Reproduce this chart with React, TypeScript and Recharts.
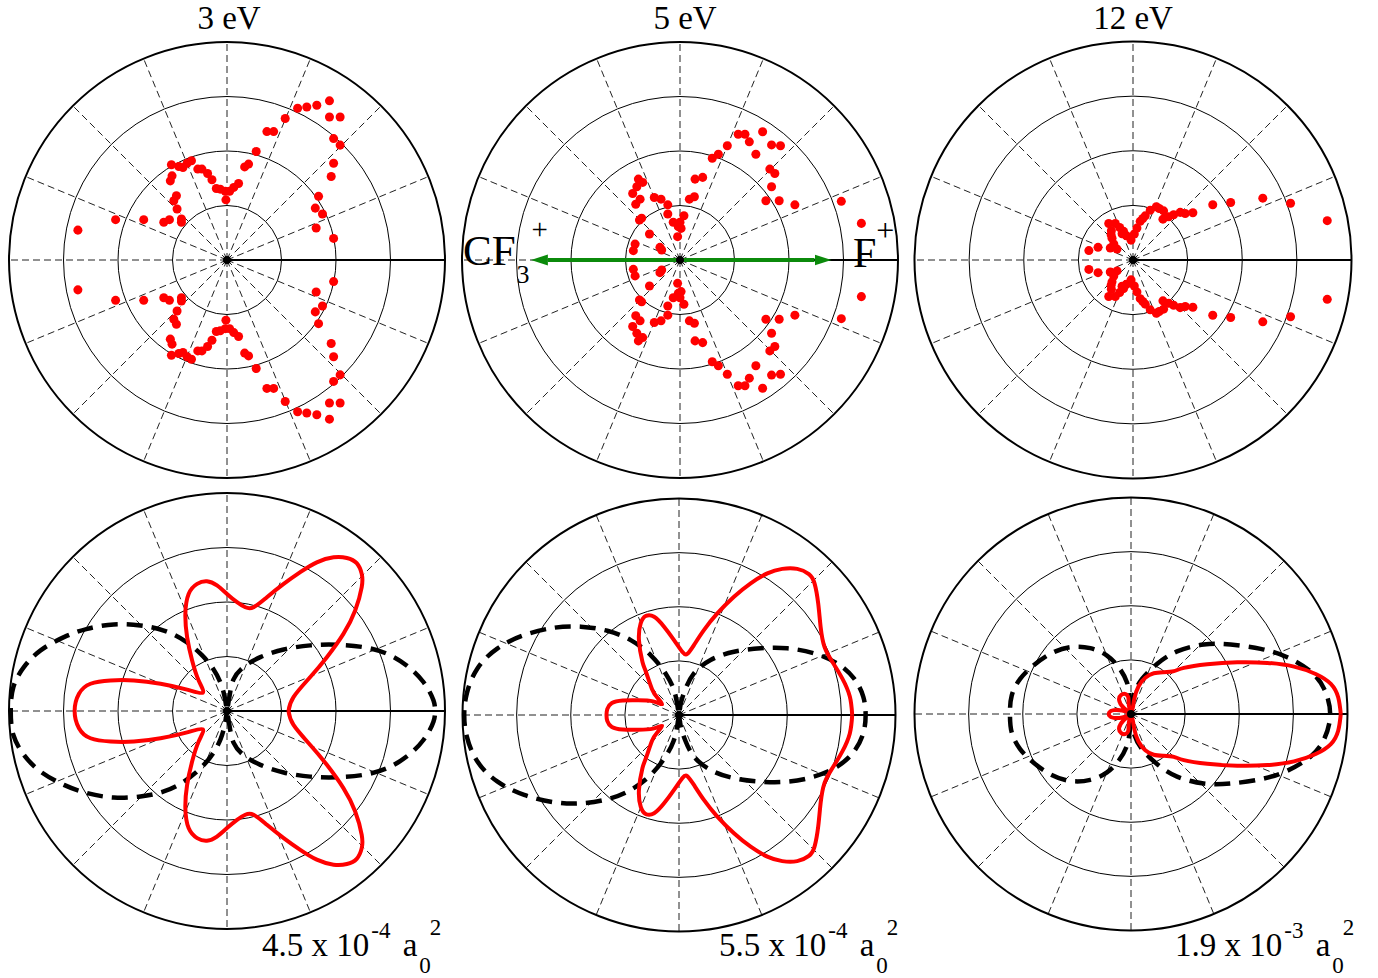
import React from 'react';
import {
  RadarChart,
  PolarGrid,
  ComposedChart,
  XAxis,
  YAxis,
  ZAxis,
  Line,
  Scatter,
  ReferenceLine,
  ReferenceDot,
} from 'recharts';

const FONT = '"Liberation Serif", "Times New Roman", serif';
const RED = '#ff0000';
const GREEN = '#0b8a0b';

// grid: dashed spokes every 22.5 deg, solid spoke along the F+ direction (0 deg)
const SPOKE_ANGLES = [22.5, 45, 67.5, 90, 112.5, 135, 157.5, 180, 202.5, 225, 247.5, 270, 292.5, 315, 337.5];
const RING_FRACTIONS = [0.25, 0.5, 0.75];

const ENERGY_LABELS = ['3 eV', '5 eV', '12 eV'];
const SCALE_MANTISSA = ['4.5', '5.5', '1.9'];
const SCALE_EXPONENT = ['-4', '-4', '-3'];

// measured points (x = I cos(theta), y = I sin(theta), normalised to outer ring)
const dots3eV: [number, number][] = [
  [0.47, 0.73], [0.412, 0.71], [0.366, 0.702], [0.324, 0.696], [0.47, 0.656], [0.519, 0.656],
  [0.267, 0.649], [0.183, 0.589], [0.214, 0.589], [0.489, 0.557], [0.519, 0.527], [0.134, 0.498],
  [0.489, 0.444], [0.478, 0.383], [0.081, 0.427], [0.099, 0.44], [0.053, 0.351], [0.031, 0.333],
  [0.012, 0.315], [-0.008, 0.315], [-0.031, 0.325], [-0.049, 0.328], [-0.005, 0.276], [-0.069, 0.368],
  [-0.089, 0.397], [-0.115, 0.417], [-0.134, 0.417], [-0.163, 0.455], [-0.183, 0.444], [-0.202, 0.424],
  [-0.221, 0.429], [-0.255, 0.437], [-0.252, 0.386], [-0.26, 0.363], [-0.232, 0.295], [-0.244, 0.272],
  [-0.229, 0.234], [-0.209, 0.188], [-0.209, 0.173], [-0.264, 0.185], [-0.29, 0.173], [-0.382, 0.185],
  [-0.511, 0.185], [-0.684, 0.137], [0.42, 0.292], [0.405, 0.238], [0.438, 0.211], [0.409, 0.147],
  [0.489, 0.099],
  [0.47, -0.73], [0.412, -0.71], [0.366, -0.702], [0.324, -0.696], [0.47, -0.656], [0.519, -0.656],
  [0.267, -0.649], [0.183, -0.589], [0.214, -0.589], [0.489, -0.557], [0.519, -0.527], [0.134, -0.498],
  [0.489, -0.444], [0.478, -0.383], [0.081, -0.427], [0.099, -0.44], [0.053, -0.351], [0.031, -0.333],
  [0.012, -0.315], [-0.008, -0.315], [-0.031, -0.325], [-0.049, -0.328], [-0.005, -0.276], [-0.069, -0.368],
  [-0.089, -0.397], [-0.115, -0.417], [-0.134, -0.417], [-0.163, -0.455], [-0.183, -0.444], [-0.202, -0.424],
  [-0.221, -0.429], [-0.255, -0.437], [-0.252, -0.386], [-0.26, -0.363], [-0.232, -0.295], [-0.244, -0.272],
  [-0.229, -0.234], [-0.209, -0.188], [-0.209, -0.173], [-0.264, -0.185], [-0.29, -0.173], [-0.382, -0.185],
  [-0.511, -0.185], [-0.684, -0.137], [0.42, -0.292], [0.405, -0.238], [0.438, -0.211], [0.409, -0.147],
  [0.489, -0.099],
];

const dots5eV: [number, number][] = [
  [0.267, 0.577], [0.298, 0.577], [0.318, 0.542], [0.379, 0.588], [0.42, 0.528], [0.461, 0.524],
  [0.348, 0.485], [0.217, 0.524], [0.176, 0.485], [0.148, 0.467], [0.412, 0.417], [0.435, 0.397],
  [0.42, 0.336], [0.394, 0.272], [0.455, 0.272], [0.527, 0.253], [0.069, 0.371], [0.104, 0.379],
  [0.043, 0.279], [0.066, 0.29], [0.74, 0.269], [0.832, 0.168], [-0.191, 0.371], [-0.171, 0.356],
  [-0.198, 0.336], [-0.217, 0.305], [-0.183, 0.279], [-0.203, 0.256], [-0.118, 0.287], [-0.087, 0.279],
  [-0.056, 0.253], [-0.056, 0.211], [-0.176, 0.192], [-0.186, 0.183], [-0.031, 0.173], [0, 0.173],
  [0.018, 0.203], [-0.008, 0.153], [0.005, 0.145], [-0.011, 0.107], [-0.14, 0.119], [-0.206, 0.073],
  [-0.214, 0.043], [-0.092, 0.058], [-0.084, 0.046],
  [0.267, -0.577], [0.298, -0.577], [0.318, -0.542], [0.379, -0.588], [0.42, -0.528], [0.461, -0.524],
  [0.348, -0.485], [0.217, -0.524], [0.176, -0.485], [0.148, -0.467], [0.412, -0.417], [0.435, -0.397],
  [0.42, -0.336], [0.394, -0.272], [0.455, -0.272], [0.527, -0.253], [0.069, -0.371], [0.104, -0.379],
  [0.043, -0.279], [0.066, -0.29], [0.74, -0.269], [0.832, -0.168], [-0.191, -0.371], [-0.171, -0.356],
  [-0.198, -0.336], [-0.217, -0.305], [-0.183, -0.279], [-0.203, -0.256], [-0.118, -0.287], [-0.087, -0.279],
  [-0.056, -0.253], [-0.056, -0.211], [-0.176, -0.192], [-0.186, -0.183], [-0.031, -0.173], [0, -0.173],
  [0.018, -0.203], [-0.008, -0.153], [0.005, -0.145], [-0.011, -0.107], [-0.14, -0.119], [-0.206, -0.073],
  [-0.214, -0.043], [-0.092, -0.058], [-0.084, -0.046],
];

const dots12eV: [number, number][] = [
  [0.889, 0.18], [0.721, 0.26], [0.594, 0.283], [0.447, 0.263], [0.365, 0.253], [0.274, 0.216],
  [0.239, 0.213], [0.216, 0.218], [0.186, 0.207], [0.163, 0.198], [0.137, 0.187], [0.14, 0.225],
  [0.107, 0.244], [0.079, 0.228], [0.056, 0.202], [0.033, 0.177], [0.018, 0.146], [0.006, 0.119],
  [-0.009, 0.091], [-0.111, 0.167], [-0.081, 0.167], [-0.061, 0.149], [-0.043, 0.131], [-0.03, 0.111],
  [-0.099, 0.134], [-0.096, 0.1], [-0.088, 0.073], [-0.104, 0.055], [-0.073, 0.05], [-0.16, 0.058],
  [-0.202, 0.043], [0.12, 0.236], [0.045, 0.19], [-0.1, 0.115], [-0.05, 0.12],
  [0.889, -0.18], [0.721, -0.26], [0.594, -0.283], [0.447, -0.263], [0.365, -0.253], [0.274, -0.216],
  [0.239, -0.213], [0.216, -0.218], [0.186, -0.207], [0.163, -0.198], [0.137, -0.187], [0.14, -0.225],
  [0.107, -0.244], [0.079, -0.228], [0.056, -0.202], [0.033, -0.177], [0.018, -0.146], [0.006, -0.119],
  [-0.009, -0.091], [-0.111, -0.167], [-0.081, -0.167], [-0.061, -0.149], [-0.043, -0.131], [-0.03, -0.111],
  [-0.099, -0.134], [-0.096, -0.1], [-0.088, -0.073], [-0.104, -0.055], [-0.073, -0.05], [-0.16, -0.058],
  [-0.202, -0.043], [0.12, -0.236], [0.045, -0.19], [-0.1, -0.115], [-0.05, -0.12],
];

// calculated distributions (red solid)
const theory3eV: [number, number][] = [
  [0.282, 0], [0.305, 0.064], [0.382, 0.156], [0.458, 0.247], [0.534, 0.354], [0.588, 0.461],
  [0.618, 0.568], [0.618, 0.629], [0.595, 0.678], [0.55, 0.702], [0.489, 0.705], [0.412, 0.682],
  [0.336, 0.637], [0.26, 0.583], [0.183, 0.522], [0.122, 0.476], [0.084, 0.476], [0.046, 0.499],
  [0, 0.537], [-0.046, 0.576], [-0.092, 0.595], [-0.137, 0.583], [-0.176, 0.537], [-0.191, 0.446],
  [-0.183, 0.339], [-0.16, 0.232], [-0.13, 0.14], [-0.111, 0.084], [-0.183, 0.098], [-0.305, 0.125],
  [-0.427, 0.14], [-0.534, 0.14], [-0.626, 0.125], [-0.679, 0.079], [-0.699, 0],
  [-0.679, -0.079], [-0.626, -0.125], [-0.534, -0.14], [-0.427, -0.14], [-0.305, -0.125], [-0.183, -0.098],
  [-0.111, -0.084], [-0.13, -0.14], [-0.16, -0.232], [-0.183, -0.339], [-0.191, -0.446], [-0.176, -0.537],
  [-0.137, -0.583], [-0.092, -0.595], [-0.046, -0.576], [0, -0.537], [0.046, -0.499], [0.084, -0.476],
  [0.122, -0.476], [0.183, -0.522], [0.26, -0.583], [0.336, -0.637], [0.412, -0.682], [0.489, -0.705],
  [0.55, -0.702], [0.595, -0.678], [0.618, -0.629], [0.618, -0.568], [0.588, -0.461], [0.534, -0.354],
  [0.458, -0.247], [0.382, -0.156], [0.305, -0.064], [0.282, 0],
];

const theory5eV: [number, number][] = [
  [0.8, 0], [0.789, 0.085], [0.754, 0.169], [0.708, 0.246], [0.672, 0.315], [0.654, 0.408],
  [0.643, 0.515], [0.626, 0.608], [0.6, 0.651], [0.546, 0.675], [0.477, 0.675], [0.408, 0.654],
  [0.331, 0.608], [0.254, 0.546], [0.177, 0.469], [0.115, 0.392], [0.069, 0.323], [0.038, 0.282],
  [0.015, 0.292], [-0.023, 0.346], [-0.069, 0.408], [-0.115, 0.454], [-0.154, 0.457], [-0.177, 0.423],
  [-0.185, 0.346], [-0.169, 0.246], [-0.153, 0.2], [-0.125, 0.12], [-0.1, 0.08], [-0.078, 0.05],
  [-0.12, 0.063], [-0.192, 0.068], [-0.26, 0.067], [-0.31, 0.055], [-0.331, 0.028], [-0.335, 0],
  [-0.331, -0.028], [-0.31, -0.055], [-0.26, -0.067], [-0.192, -0.068], [-0.12, -0.063], [-0.078, -0.05],
  [-0.1, -0.08], [-0.125, -0.12], [-0.153, -0.2], [-0.169, -0.246], [-0.185, -0.346], [-0.177, -0.423],
  [-0.154, -0.457], [-0.115, -0.454], [-0.069, -0.408], [-0.023, -0.346], [0.015, -0.292], [0.038, -0.282],
  [0.069, -0.323], [0.115, -0.392], [0.177, -0.469], [0.254, -0.546], [0.331, -0.608], [0.408, -0.654],
  [0.477, -0.675], [0.546, -0.675], [0.6, -0.651], [0.626, -0.608], [0.643, -0.515], [0.654, -0.408],
  [0.672, -0.315], [0.708, -0.246], [0.754, -0.169], [0.789, -0.085], [0.8, 0],
];

const theory12eV: [number, number][] = [
  [0.969, 0], [0.957, 0.077], [0.923, 0.139], [0.853, 0.185], [0.753, 0.219], [0.63, 0.236],
  [0.491, 0.239], [0.352, 0.23], [0.244, 0.213], [0.198, 0.198], [0.151, 0.193], [0.105, 0.188],
  [0.066, 0.167], [0.035, 0.128], [0.015, 0.069], [0.004, 0.015],
  [-0.01, 0.04], [-0.012, 0.075], [-0.025, 0.092], [-0.045, 0.088], [-0.055, 0.065], [-0.035, 0.03],
  [-0.01, 0.008], [-0.04, 0.016], [-0.08, 0.018], [-0.1, 0.008], [-0.1, -0.008], [-0.08, -0.018],
  [-0.04, -0.016], [-0.01, -0.008], [-0.035, -0.03], [-0.055, -0.065], [-0.045, -0.088], [-0.025, -0.092],
  [-0.012, -0.075], [-0.01, -0.04], [0.004, -0.015],
  [0.015, -0.069], [0.035, -0.128], [0.066, -0.167], [0.105, -0.188], [0.151, -0.193], [0.198, -0.198],
  [0.244, -0.213], [0.352, -0.23], [0.491, -0.239], [0.63, -0.236], [0.753, -0.219], [0.853, -0.185],
  [0.923, -0.139], [0.957, -0.077], [0.969, 0],
];

// model distributions (black dashed), one closed loop per lobe
const model3eVLeft: [number, number][] = [
  [0, 0], [-0.012, 0.07], [-0.03, 0.13], [-0.065, 0.196], [-0.122, 0.263], [-0.198, 0.324], [-0.29, 0.369],
  [-0.397, 0.392], [-0.519, 0.397], [-0.641, 0.377], [-0.748, 0.339], [-0.855, 0.278], [-0.931, 0.202],
  [-0.98, 0.11], [-0.992, 0], [-0.98, -0.11], [-0.931, -0.202], [-0.855, -0.278], [-0.748, -0.339],
  [-0.641, -0.377], [-0.519, -0.397], [-0.397, -0.392], [-0.29, -0.369], [-0.198, -0.324], [-0.122, -0.263],
  [-0.065, -0.196], [-0.03, -0.13], [-0.012, -0.07], [0, 0],
];
const model3eVRight: [number, number][] = [
  [0, 0], [0.012, 0.07], [0.03, 0.145], [0.076, 0.202], [0.153, 0.247], [0.26, 0.282], [0.382, 0.301],
  [0.504, 0.304], [0.626, 0.293], [0.733, 0.263], [0.824, 0.209], [0.901, 0.133], [0.947, 0.049],
  [0.954, 0], [0.947, -0.049], [0.901, -0.133], [0.824, -0.209], [0.733, -0.263], [0.626, -0.293],
  [0.504, -0.304], [0.382, -0.301], [0.26, -0.282], [0.153, -0.247], [0.076, -0.202], [0.03, -0.145],
  [0.012, -0.07], [0, 0],
];
const model5eVLeft: [number, number][] = [
  [0, 0], [-0.01, 0.06], [-0.025, 0.12], [-0.062, 0.192], [-0.131, 0.277], [-0.223, 0.346], [-0.331, 0.389],
  [-0.454, 0.408], [-0.577, 0.403], [-0.715, 0.369], [-0.838, 0.308], [-0.931, 0.215], [-0.98, 0.1],
  [-0.992, 0], [-0.98, -0.1], [-0.931, -0.215], [-0.838, -0.308], [-0.715, -0.369], [-0.577, -0.403],
  [-0.454, -0.408], [-0.331, -0.389], [-0.223, -0.346], [-0.131, -0.277], [-0.062, -0.192], [-0.025, -0.12],
  [-0.01, -0.06], [0, 0],
];
const model5eVRight: [number, number][] = [
  [0, 0], [0.01, 0.06], [0.03, 0.12], [0.069, 0.192], [0.146, 0.254], [0.254, 0.292], [0.377, 0.308],
  [0.5, 0.308], [0.623, 0.285], [0.731, 0.238], [0.808, 0.169], [0.851, 0.085], [0.862, 0],
  [0.851, -0.085], [0.808, -0.169], [0.731, -0.238], [0.623, -0.285], [0.5, -0.308], [0.377, -0.308],
  [0.254, -0.292], [0.146, -0.254], [0.069, -0.192], [0.03, -0.12], [0.01, -0.06], [0, 0],
];
const model12eVLeft: [number, number][] = [
  [0, 0], [-0.005, 0.07], [-0.019, 0.147], [-0.057, 0.216], [-0.111, 0.27], [-0.188, 0.304],
  [-0.281, 0.309], [-0.373, 0.278], [-0.451, 0.224], [-0.512, 0.162], [-0.551, 0.085], [-0.559, 0],
  [-0.551, -0.085], [-0.512, -0.162], [-0.451, -0.224], [-0.373, -0.278], [-0.281, -0.309], [-0.188, -0.304],
  [-0.111, -0.27], [-0.057, -0.216], [-0.019, -0.147], [-0.005, -0.07], [0, 0],
];
const model12eVRight: [number, number][] = [
  [0, 0], [0.012, 0.085], [0.051, 0.162], [0.12, 0.231], [0.213, 0.289], [0.336, 0.321],
  [0.46, 0.321], [0.599, 0.301], [0.722, 0.262], [0.83, 0.196], [0.892, 0.116], [0.92, 0],
  [0.892, -0.116], [0.83, -0.196], [0.722, -0.262], [0.599, -0.301], [0.46, -0.321], [0.336, -0.321],
  [0.213, -0.289], [0.12, -0.231], [0.051, -0.162], [0.012, -0.085], [0, 0],
];

const toXY = (pts: [number, number][]) => pts.map(([x, y]) => ({ x, y }));

const SIZE = 440;
const C = SIZE / 2;

function PolarPanel({
  cx,
  cy,
  r,
  children,
}: {
  cx: number;
  cy: number;
  r: number;
  children?: React.ReactNode;
}) {
  const m = C - r;
  return (
    <div style={{ position: 'absolute', left: cx - C, top: cy - C, width: SIZE, height: SIZE }}>
      <div style={{ position: 'absolute', left: 0, top: 0 }}>
        <RadarChart
          width={SIZE}
          height={SIZE}
          cx={C}
          cy={C}
          outerRadius={r}
          margin={{ top: 0, right: 0, bottom: 0, left: 0 }}
        >
          <PolarGrid gridType="circle" polarAngles={SPOKE_ANGLES} polarRadius={[]} stroke="#222" strokeWidth={1} strokeDasharray="7 4" />
          <PolarGrid gridType="circle" polarAngles={[0]} polarRadius={[]} stroke="#000" strokeWidth={2} />
          <PolarGrid gridType="circle" radialLines={false} polarAngles={[]} polarRadius={RING_FRACTIONS.map((f) => f * r)} stroke="#000" strokeWidth={1} />
          <PolarGrid gridType="circle" radialLines={false} polarAngles={[]} polarRadius={[r]} stroke="#000" strokeWidth={2} />
        </RadarChart>
      </div>
      <div style={{ position: 'absolute', left: 0, top: 0 }}>
        <ComposedChart width={SIZE} height={SIZE} margin={{ top: m, right: m, bottom: m, left: m }}>
          <XAxis type="number" dataKey="x" domain={[-1, 1]} hide allowDataOverflow />
          <YAxis type="number" dataKey="y" domain={[-1, 1]} hide allowDataOverflow />
          <ZAxis range={[52, 52]} />
          <ReferenceDot x={0} y={0} r={4} fill="#000" stroke="none" />
          {children}
        </ComposedChart>
      </div>
    </div>
  );
}

function Dots({ pts }: { pts: [number, number][] }) {
  return <Scatter data={toXY(pts)} fill={RED} isAnimationActive={false} />;
}

function Curve({ pts, dashed }: { pts: [number, number][]; dashed?: boolean }) {
  return (
    <Line
      data={toXY(pts)}
      dataKey="y"
      type="natural"
      stroke={dashed ? '#000' : RED}
      strokeWidth={dashed ? 4.5 : 4}
      strokeDasharray={dashed ? '16 9' : undefined}
      strokeDashoffset={dashed ? 20 : undefined}
      dot={false}
      activeDot={false}
      isAnimationActive={false}
    />
  );
}

function ScaleLabel({ x, i }: { x: number; i: number }) {
  return (
    <text x={x} y={956} fontFamily={FONT} fontSize={33} fill="#000">
      {`${SCALE_MANTISSA[i]} x 10`}
      <tspan fontSize={23} dy={-18} dx={2}>{SCALE_EXPONENT[i]}</tspan>
      <tspan fontSize={33} dy={18} dx={4}>{' a'}</tspan>
      <tspan fontSize={23} dy={17} dx={2}>0</tspan>
      <tspan fontSize={23} dy={-38} dx={-1}>2</tspan>
    </text>
  );
}

export default function App() {
  return (
    <div style={{ position: 'absolute', left: 0, top: 0, width: 1378, height: 978, background: '#fff' }}>
      {/* measured (top row) */}
      <PolarPanel cx={227} cy={260} r={218}>
        {Dots({ pts: dots3eV })}
      </PolarPanel>
      <PolarPanel cx={680} cy={260} r={218}>
        {Dots({ pts: dots5eV })}
        <ReferenceLine
          segment={[{ x: -0.606, y: 0 }, { x: 0.617, y: 0 }]}
          stroke={GREEN}
          strokeWidth={4}
          shape={(p: any) => (
            <line
              x1={p.x1}
              y1={p.y1}
              x2={p.x2}
              y2={p.y2}
              stroke={GREEN}
              strokeWidth={4}
              markerStart="url(#arrowHead)"
              markerEnd="url(#arrowHead)"
            />
          )}
        />
      </PolarPanel>
      <PolarPanel cx={1133} cy={260} r={218.5}>
        {Dots({ pts: dots12eV })}
      </PolarPanel>

      {/* calculated (bottom row) */}
      <PolarPanel cx={227} cy={711} r={218}>
        {Curve({ pts: model3eVLeft, dashed: true })}
        {Curve({ pts: model3eVRight, dashed: true })}
        {Curve({ pts: theory3eV })}
      </PolarPanel>
      <PolarPanel cx={679} cy={715} r={216.5}>
        {Curve({ pts: model5eVLeft, dashed: true })}
        {Curve({ pts: model5eVRight, dashed: true })}
        {Curve({ pts: theory5eV })}
      </PolarPanel>
      <PolarPanel cx={1131} cy={714} r={216.5}>
        {Curve({ pts: model12eVLeft, dashed: true })}
        {Curve({ pts: model12eVRight, dashed: true })}
        {Curve({ pts: theory12eV })}
      </PolarPanel>

      <svg width={1378} height={978} style={{ position: 'absolute', left: 0, top: 0, pointerEvents: 'none' }}>
        <defs>
          <marker
            id="arrowHead"
            markerUnits="userSpaceOnUse"
            markerWidth={17}
            markerHeight={12}
            refX={0}
            refY={6}
            orient="auto-start-reverse"
          >
            <path d="M0,0.5 L17,6 L0,11.5 z" fill={GREEN} />
          </marker>
        </defs>
        {ENERGY_LABELS.map((t, i) => (
          <text key={t} x={[229, 685, 1133][i]} y={29} textAnchor="middle" fontFamily={FONT} fontSize={33} fill="#000">
            {t}
          </text>
        ))}
        <text x={463} y={265} fontFamily={FONT} fontSize={43} fill="#000">
          CF
          <tspan fontSize={26} dy={18} dx={1}>3</tspan>
          <tspan fontSize={29} dy={-44} dx={2}>+</tspan>
        </text>
        <text x={853} y={267} fontFamily={FONT} fontSize={42} fill="#000">
          F
          <tspan fontSize={32} dy={-26}>+</tspan>
        </text>
        <ScaleLabel x={262} i={0} />
        <ScaleLabel x={719} i={1} />
        <ScaleLabel x={1175} i={2} />
      </svg>
    </div>
  );
}
